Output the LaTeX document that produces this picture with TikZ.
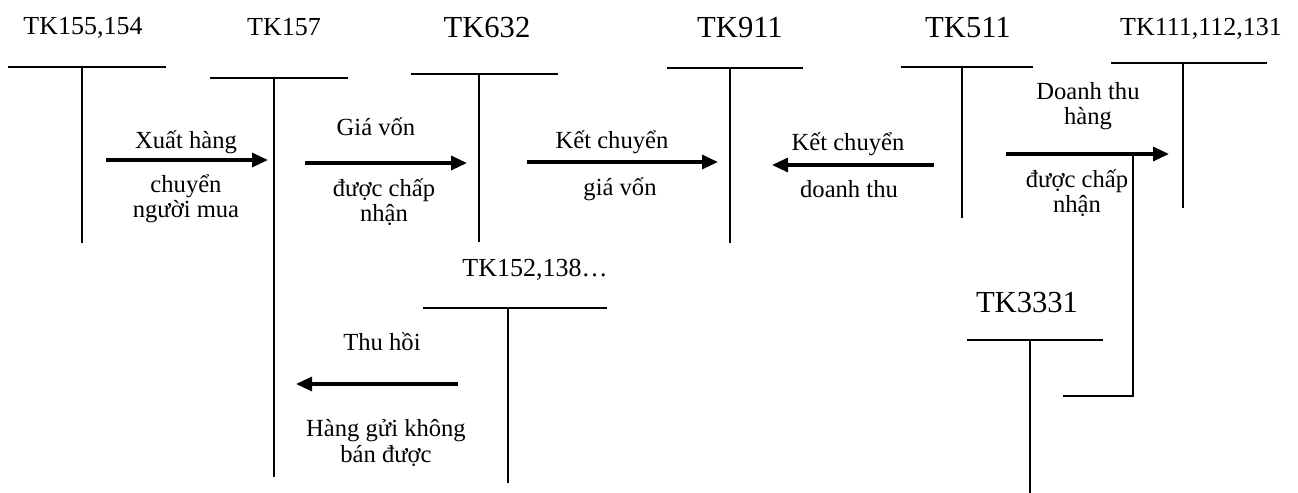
\documentclass[tikz,border=0pt]{standalone}
\usepackage{fontspec}
\setmainfont{Liberation Serif}
\usetikzlibrary{arrows.meta}

\begin{document}
\begin{tikzpicture}[x=0.5pt,y=-0.5pt,line width=0.8pt,
  flow/.style={line width=1.6pt,-{Triangle[length=8pt,width=7pt]}},
  txt/.style={font=\fontsize{12.3}{12.7}\selectfont,align=center,inner sep=0pt},
  acc/.style={font=\fontsize{13}{15}\selectfont,inner sep=0pt,anchor=base},
  bigacc/.style={font=\fontsize{15.3}{17}\selectfont,inner sep=0pt,anchor=base}]
\useasboundingbox (0,0) rectangle (1298,493);

% account names
\node[acc] (n155) at (83,34) {TK155,154};
\node[acc] (n157) at (284,35) {TK157};
\node[bigacc] (n632) at (487,37) {TK632};
\node[bigacc] (n911) at (740,37) {TK911};
\node[bigacc] (n511) at (968,37) {TK511};
\node[acc] (n111) at (1201,35) {TK111,112,131};
\node[acc] (n152) at (535,276) {TK152,138…};
\node[bigacc] (n3331) at (1027,312) {TK3331};

% T accounts
\foreach \l/\r/\y/\x/\b in {8/166/67/82/243, 210/348/78/274/477,
    411/558/74/479/242, 667/803/68/730/243, 901/1033/67/962/218,
    1111/1267/63/1183/208, 423/607/308/508/483, 967/1103/340/1030/493}
  {\draw (\l,\y) -- (\r,\y);
   \draw (\x,\y) -- (\x,\b);}

% arrow ends
\coordinate (s1) at (106,160);  \coordinate (e1) at (268,160);
\coordinate (s2) at (305,163);  \coordinate (e2) at (467,163);
\coordinate (s3) at (527,162);  \coordinate (e3) at (718,162);
\coordinate (s4) at (934,165);  \coordinate (e4) at (772,165);
\coordinate (s5) at (1006,154); \coordinate (e5) at (1169,154);
\coordinate (s6) at (458,384);  \coordinate (e6) at (296,384);
\coordinate (v1) at (1133,154); \coordinate (v2) at (1133,396);
\coordinate (v3) at (1063,396);

\foreach \a/\b in {s1/e1,s2/e2,s3/e3,s4/e4,s5/e5,s6/e6}
  \draw[flow] (\a) -- (\b);
\draw (v1) -- (v2) -- (v3);

% labels
\node[txt] (x1) at (186,142) {Xuất hàng};
\node[txt] (x2) at (186,199) {chuyển\\người mua};
\node[txt] (g1) at (376,127) {Giá vốn};
\node[txt] (g2) at (384,202) {được chấp\\nhận};
\node[txt] (k1) at (612,142) {Kết chuyển};
\node[txt] (k2) at (620,189) {giá vốn};
\node[txt] (k3) at (848,144) {Kết chuyển};
\node[txt] (k4) at (849,189) {doanh thu};
\node[txt] (d1) at (1088,106) {Doanh thu\\hàng};
\node[txt] (d2) at (1077,193) {được chấp\\nhận};
\node[txt] (t1) at (382,342) {Thu hồi};
\node[txt] (t2) at (386,443) {Hàng gửi không\\bán được};
\end{tikzpicture}
\end{document}
